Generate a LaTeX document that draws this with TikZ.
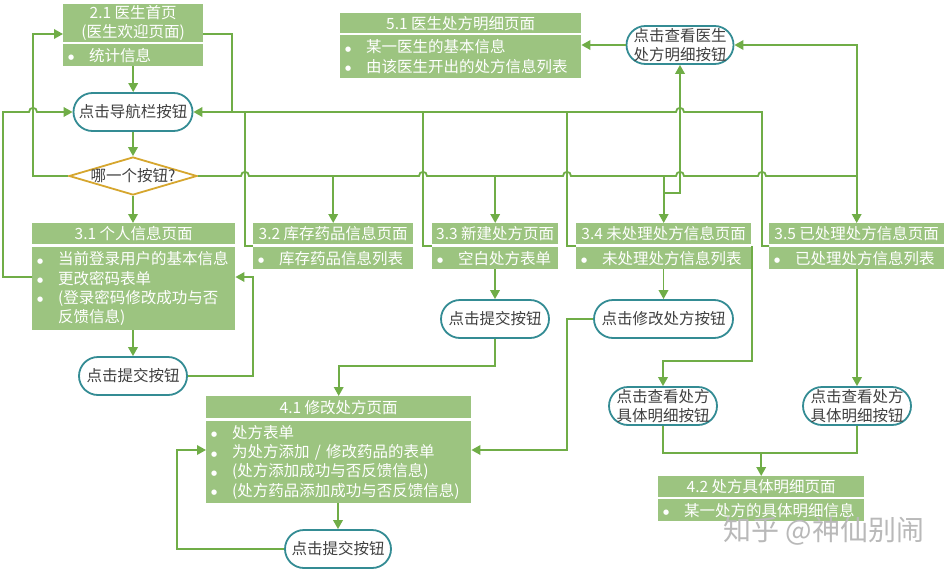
\documentclass[tikz,border=0pt]{standalone}
\usepackage{fontspec}
\setmainfont{Noto Sans CJK SC}
\newfontfamily\dvs{DejaVu Sans}
\usetikzlibrary{arrows.meta,shapes.geometric}
\definecolor{boxg}{RGB}{156,196,128}
\definecolor{lineg}{RGB}{112,173,71}
\definecolor{btnb}{RGB}{52,140,148}
\definecolor{diab}{RGB}{214,166,46}
\definecolor{txtd}{RGB}{64,64,64}
\definecolor{wmk}{RGB}{185,185,185}
\newcommand{\bul}{\makebox[21pt][l]{\raisebox{1.5pt}{\dvs\fontsize{7}{7}\selectfont ●}}}
\newcommand{\ind}{\hspace*{21pt}}
\begin{document}
\begin{tikzpicture}[x=1pt,y=-1pt,
 hdr/.style={fill=boxg,text=white,inner sep=0pt,anchor=north west,align=center,font=\fontsize{15.5}{19}\selectfont},
 bdy/.style={fill=boxg,text=white,inner xsep=5pt,inner ysep=0pt,anchor=north west,align=left,font=\fontsize{15.5}{19.3}\selectfont},
 btn/.style={draw=btnb,line width=1.8pt,fill=white,rounded corners=19pt,text=txtd,inner sep=0pt,align=center,font=\fontsize{15.5}{19.5}\selectfont,minimum height=38pt},
 conn/.style={draw=lineg,line width=1.8pt},
 arr/.style={conn,-{Triangle[length=9pt,width=9.5pt]}},
]
\fill[white] (0,0) rectangle (950,570);
\useasboundingbox (0,0) rectangle (950,570);

% pages
\node[hdr,minimum width=140pt,minimum height=38pt] (h21) at (63,4) {2.1 医生首页\\(医生欢迎页面)};
\node[bdy,text width=130pt,minimum height=22pt] (b21) at (63,44) {\bul 统计信息};

\node[hdr,minimum width=241pt,minimum height=20pt] (h51) at (340,13) {5.1 医生处方明细页面};
\node[bdy,text width=231pt,minimum height=43pt] (b51) at (340,35) {\bul 某一医生的基本信息\\\bul 由该医生开出的处方信息列表};

\node[hdr,minimum width=203pt,minimum height=21pt] (h31) at (32,223) {3.1 个人信息页面};
\node[bdy,text width=193pt,minimum height=83pt] (b31) at (32,247) {\bul 当前登录用户的基本信息\\\bul 更改密码表单\\\bul (登录密码修改成功与否\\\ind 反馈信息)};

\node[hdr,minimum width=160pt,minimum height=21pt] (h32) at (253,223) {3.2 库存药品信息页面};
\node[bdy,text width=150pt,minimum height=22pt] (b32) at (253,247) {\bul 库存药品信息列表};

\node[hdr,minimum width=126pt,minimum height=21pt] (h33) at (432,223) {3.3 新建处方页面};
\node[bdy,text width=116pt,minimum height=22pt] (b33) at (432,247) {\bul 空白处方表单};

\node[hdr,minimum width=175pt,minimum height=21pt] (h34) at (576,223) {3.4 未处理处方信息页面};
\node[bdy,text width=165pt,minimum height=22pt] (b34) at (576,247) {\bul 未处理处方信息列表};

\node[hdr,minimum width=175pt,minimum height=21pt] (h35) at (769,223) {3.5 已处理处方信息页面};
\node[bdy,text width=165pt,minimum height=22pt] (b35) at (769,247) {\bul 已处理处方信息列表};

\node[hdr,minimum width=265pt,minimum height=22pt] (h41) at (206,396) {4.1 修改处方页面};
\node[bdy,text width=255pt,minimum height=82pt] (b41) at (206,421) {\bul 处方表单\\\bul 为处方添加 / 修改药品的表单\\\bul (处方添加成功与否反馈信息)\\\bul (处方药品添加成功与否反馈信息)};

\node[hdr,minimum width=206pt,minimum height=21pt] (h42) at (658,476) {4.2 处方具体明细页面};
\node[bdy,text width=196pt,minimum height=22pt] (b42) at (658,499) {\bul 某一处方的具体明细信息};

% buttons
\node[btn,minimum width=119pt] (nav) at (133,112) {点击导航栏按钮};
\node[btn,minimum width=108pt] (sub1) at (133,376) {点击提交按钮};
\node[btn,minimum width=108pt] (sub2) at (495,319) {点击提交按钮};
\node[btn,minimum width=139pt] (mod) at (663.5,319) {点击修改处方按钮};
\node[btn,minimum width=107pt] (vdoc) at (680,45) {点击查看医生\\处方明细按钮};
\node[btn,minimum width=108pt] (vd1) at (663,406) {点击查看处方\\具体明细按钮};
\node[btn,minimum width=108pt] (vd2) at (857,406) {点击查看处方\\具体明细按钮};
\node[btn,minimum width=106pt] (sub3) at (338,549) {点击提交按钮};

\node[diamond,draw=diab,line width=1.8pt,fill=white,text=txtd,aspect=3.37,minimum width=128pt,minimum height=38pt,inner sep=-6pt,font=\fontsize{15.5}{18}\selectfont] (dia) at (133,176) {哪一个按钮?};

% main column
\draw[arr] (b21.south) -- (b21.south |- nav.north);
\draw[arr] (nav.south) -- (nav.south |- dia.north);
\draw[arr] (dia.south) -- (dia.south |- h31.north);
\draw[arr] (sub1.north |- b31.south) -- (sub1.north);
\draw[arr] (sub1.east) -| (253,277) -- (b31.east |- 0,277);

% 3.1 back to nav (left side)
\draw[arr] (b31.west |- 0,277) -- (3,277) -- (3,112) -- (29,112) .. controls (29,106.5) and (37,106.5) .. (37,112) -- (nav.west);

% diamond left to 2.1
\draw[arr] (dia.west) -- (33,176) -- (33,34) -- (h21.west |- 0,34);

% returns along y=112
\draw[arr] (b35.west |- 0,246) -- (762,246) -- (762,112) -- (684,112) .. controls (684,106.5) and (676,106.5) .. (676,112) -- (nav.east);
\draw[conn] (h21.east |- 0,34) -- (232,34) -- (232,112);
\draw[conn] (b32.west |- 0,246) -- (245,246) -- (245,112);
\draw[conn] (b33.west |- 0,246) -- (423,246) -- (423,112);
\draw[conn] (b34.west |- 0,246) -- (567,246) -- (567,112);

% diamond right
\draw[conn] (dia.east) -- (241,176) .. controls (241,170.5) and (249,170.5) .. (249,176)
  -- (419,176) .. controls (419,170.5) and (427,170.5) .. (427,176)
  -- (563,176) .. controls (563,170.5) and (571,170.5) .. (571,176)
  -- (676,176) .. controls (676,170.5) and (684,170.5) .. (684,176)
  -- (758,176) .. controls (758,170.5) and (766,170.5) .. (766,176)
  -- (h35.north |- 0,176);
\draw[arr] (h32.north |- 0,176) -- (h32.north);
\draw[arr] (h33.north |- 0,176) -- (h33.north);
\draw[arr] (h34.north |- 0,176) -- (h34.north);
\draw[arr] (h35.north |- 0,176) -- (h35.north);
\draw[arr] (h35.north |- 0,176) -- (h35.north |- vdoc.east) -- (vdoc.east);
\draw[arr] (h34.north |- 0,193) -- (vdoc.south |- 0,193) -- (vdoc.south);

% to 5.1
\draw[arr] (vdoc.west) -- (b51.east |- vdoc.west);

% 3.3 -> submit -> 4.1
\draw[arr] (sub2.north |- b33.south) -- (sub2.north);
\draw[arr] (sub2.south) -- (sub2.south |- 0,366) -| (h41.north);

% 3.4 -> modify -> 4.1
\draw[arr] (mod.north |- b34.south) -- (mod.north);
\draw[arr] (mod.west) -| (567,450) -- (b41.east |- 0,450);

% 3.4 -> view detail 1
\draw[arr] (752,246) -- (752,361) -| (vd1.north);
% 3.5 -> view detail 2
\draw[arr] (vd2.north |- b35.south) -- (vd2.north);

% view details -> 4.2
\draw[conn] (vd1.south) |- (vd2.south |- 0,453) -- (vd2.south);
\draw[arr] (h42.north |- 0,453) -- (h42.north);

% 4.1 -> submit -> 4.1
\draw[arr] (sub3.north |- b41.south) -- (sub3.north);
\draw[arr] (sub3.west) -| (177,450) -- (b41.west |- 0,450);

% watermark
\node[text=wmk,font=\fontsize{28}{30}\selectfont] (wm) at (824,531) {知乎 @神仙别闹};
\end{tikzpicture}
\end{document}
